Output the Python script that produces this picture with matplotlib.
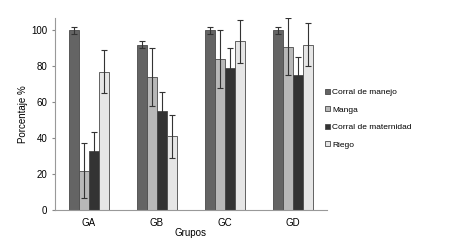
import matplotlib.pyplot as plt
import numpy as np

plt.rcParams['font.family'] = ['Liberation Sans', 'DejaVu Sans']

groups = ['GA', 'GB', 'GC', 'GD']
series_names = ['Corral de manejo', 'Manga', 'Corral de maternidad', 'Riego']
manejo = [100, 92, 100, 100]
manga = [22, 74, 84, 91]
maternidad = [33, 55, 79, 75]
riego = [77, 41, 94, 92]
manejo_err = [2, 2, 2, 2]
manga_err = [15.5, 16, 16, 16]
maternidad_err = [10.5, 11, 11, 10.5]
riego_err = [12, 12, 12, 12]

values = [manejo, manga, maternidad, riego]
errors = [manejo_err, manga_err, maternidad_err, riego_err]
colors = ['#646464', '#b8b8b8', '#333333', '#e6e6e6']

fig = plt.figure(figsize=(4.53, 2.42), dpi=100)
ax = fig.add_axes([0.121, 0.132, 0.601, 0.794])

ind = np.arange(len(groups))  # group positions
width = 0.147

for i in range(len(series_names)):
    pos = ind + (i - 1.5) * width
    ax.bar(pos, values[i], width, color=colors[i], edgecolor='#4a4a4a', linewidth=0.6,
           label=series_names[i], yerr=errors[i], capsize=2,
           error_kw={'elinewidth': 0.8, 'capthick': 0.8, 'ecolor': '#333333'})

ax.set_xlim(-0.5, 3.5)
ax.set_ylim(0, 107)
ax.set_yticks(np.arange(0, 101, 20))
ax.set_xticks(ind)
ax.set_xticklabels(groups)
ax.tick_params(axis='x', length=0, labelsize=7, pad=6)
ax.tick_params(axis='y', length=2.5, labelsize=7, color='#888888', pad=3)
for s in ['top', 'right']:
    ax.spines[s].set_visible(False)
for s in ['left', 'bottom']:
    ax.spines[s].set_color('#999999')
ax.set_ylabel('Porcentaje %', fontsize=7, labelpad=2)
ax.set_xlabel('Grupos', fontsize=7, labelpad=0)

ax.legend(loc='center left', bbox_to_anchor=(0.965, 0.475), frameon=False, fontsize=6,
          handlelength=0.55, handleheight=0.55, handletextpad=0.3, labelspacing=1.2)

plt.savefig('out.png', dpi=100)
